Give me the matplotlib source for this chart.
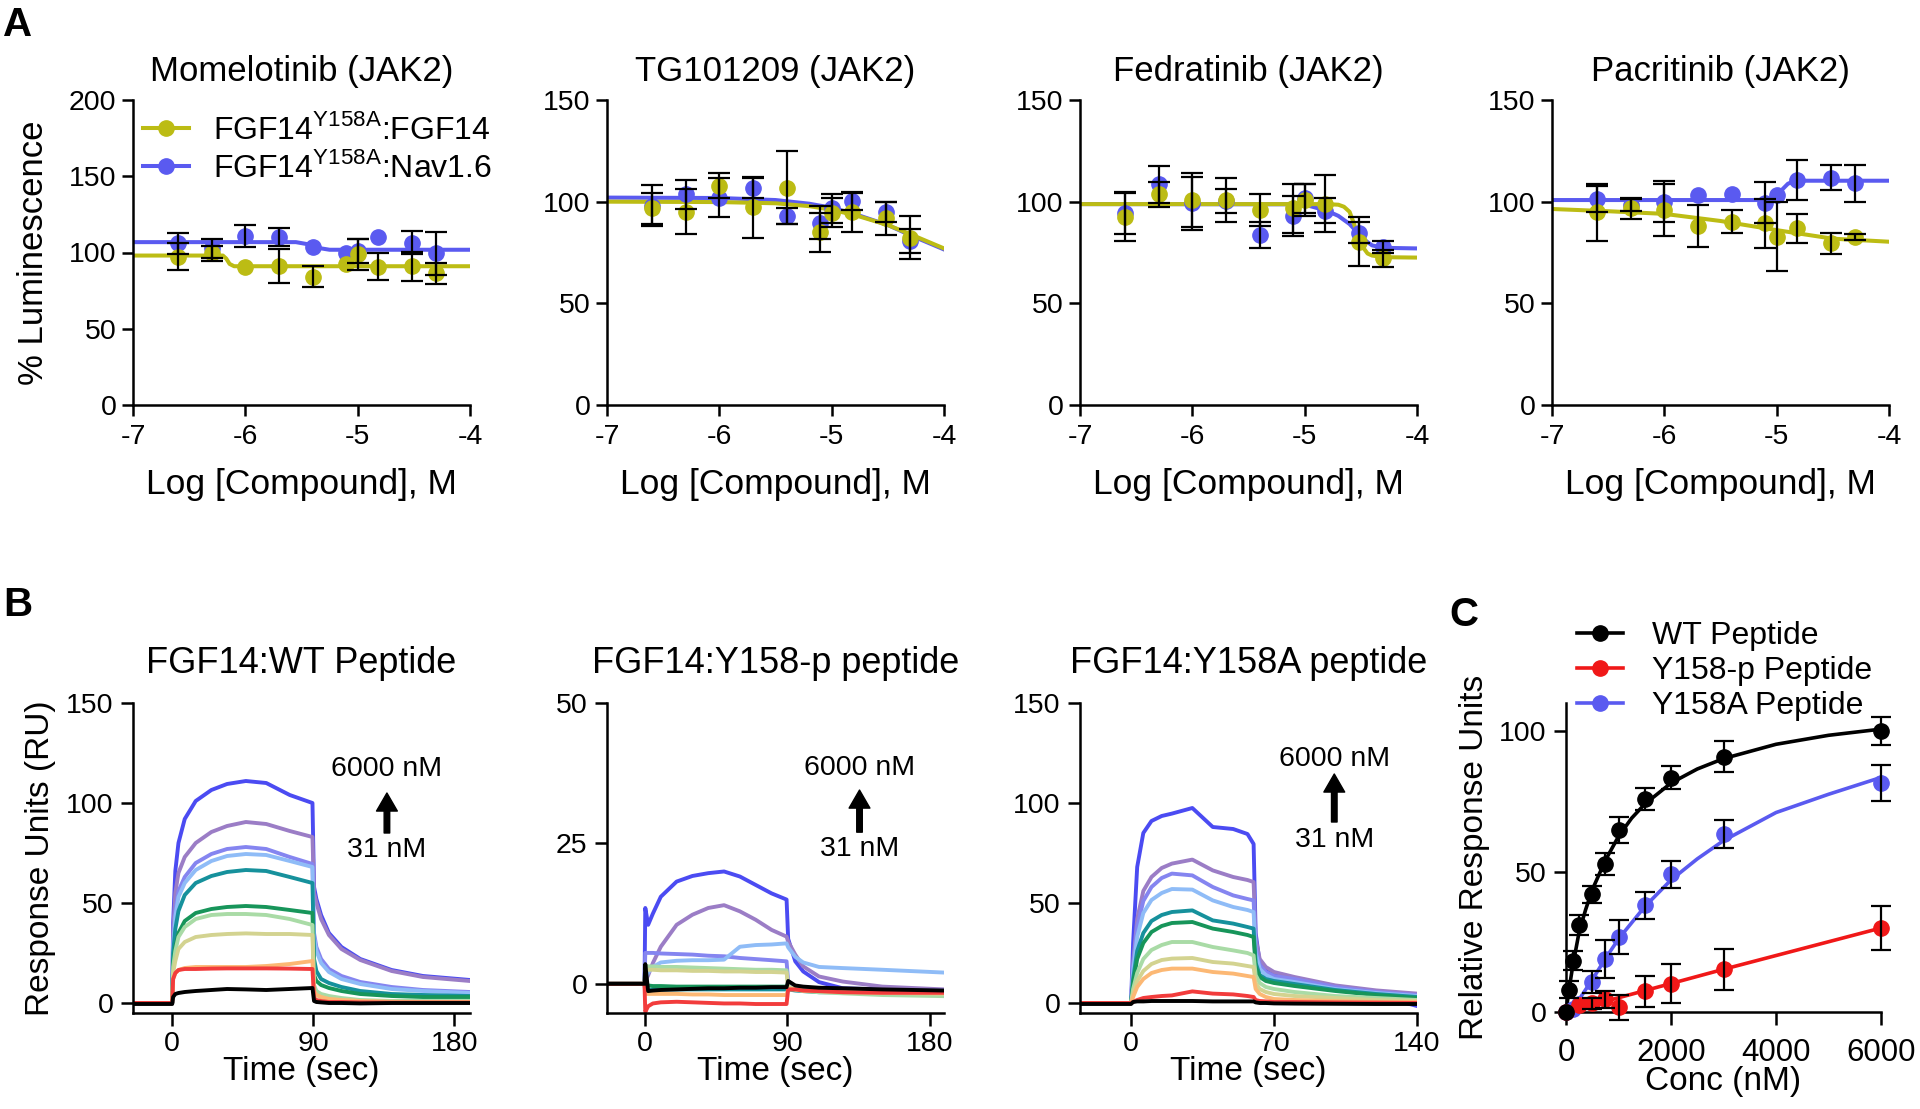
import matplotlib.pyplot as plt
from matplotlib.lines import Line2D

plt.rcParams['font.family'] = ['Liberation Sans', 'DejaVu Sans']
plt.rcParams['mathtext.fontset'] = 'custom'
plt.rcParams['mathtext.rm'] = 'Liberation Sans'
plt.rcParams['axes.unicode_minus'] = False
plt.rcParams['axes.linewidth'] = 1.8
plt.rcParams['xtick.major.width'] = 1.8
plt.rcParams['ytick.major.width'] = 1.8

# ---------------- panel A data ----------------
log_conc = [-6.60, -6.30, -6.00, -5.70, -5.40, -5.10, -5.00, -4.82, -4.52, -4.30]
drugs = ['Momelotinib (JAK2)', 'TG101209 (JAK2)', 'Fedratinib (JAK2)', 'Pacritinib (JAK2)']

fgf_mean = [[97.3, 99.5, 90.7, 91.1, 84.2, 92.2, 98.8, 90.7, 91.1, 86.3],
            [96.7, 95.0, 107.9, 97.2, 106.9, 84.9, 94.6, 94.8, 91.8, 82.3],
            [92.6, 103.6, 100.8, 100.8, 95.9, 96.7, 100.8, 98.9, 80.3, 72.1],
            [94.8, 96.7, 95.9, 88.0, 90.2, 89.3, 82.8, 86.9, 79.5, 82.5]]
fgf_err = [[9, 5, 0, 11, 7, 0, 10, 9, 9.5, 7],
           [7.5, 11, 6, 15, 18, 9.5, 7, 9.5, 8, 10.5],
           [12, 6, 13.5, 11, 8, 12, 8, 14, 12, 4],
           [14, 5, 13, 10.5, 5.5, 12, 17, 7, 5, 1.5]]
nav_mean = [[106.0, 102.7, 110.8, 110.0, 103.8, 99.5, 101.0, 110.0, 106.4, 99.5],
            [98.0, 103.6, 102.0, 106.6, 93.0, 89.7, 96.7, 100.3, 95.0, 80.8],
            [94.3, 108.5, 99.2, 100.3, 83.6, 93.0, 101.6, 95.6, 84.8, 77.9],
            [101.3, 98.4, 100.0, 103.3, 103.6, 99.5, 103.3, 110.7, 111.8, 109.0]]
nav_err = [[7, 6, 7, 6, 0, 0, 8, 0, 7.5, 14],
           [10, 7, 9.5, 5, 4, 8, 7, 4.5, 5, 6],
           [10, 9, 13, 6, 6.5, 10, 7, 6, 5, 3],
           [6.5, 3, 10, 0, 0, 10, 0, 10, 6, 9]]

# fitted curves
fgf_fit_x = [[-7, -6.2, -6.17, -6.14, -6.1, -4],
             [-7, -6, -5.5, -5.2, -5, -4.8, -4.5, -4.3, -4],
             [-7, -4.8, -4.7, -4.65, -4.6, -4.56, -4.52, -4.48, -4.44, -4.4, -4.3, -4],
             [-7, -6.5, -6, -5.5, -5, -4.5, -4]]
fgf_fit_y = [[98, 98, 96, 92.5, 91, 91],
             [100, 99.8, 99.2, 97.8, 96, 93.5, 88.5, 84, 77],
             [98.8, 98.8, 98.5, 97.5, 95, 89, 82, 77.5, 74.5, 73.5, 72.7, 72.5],
             [96.4, 95.3, 94.0, 90.5, 86, 81.8, 80.3]]
nav_fit_x = [[-7, -5.55, -5.45, -5.35, -5.25, -4],
             [-7, -6, -5.5, -5.2, -5, -4.8, -4.5, -4.3, -4],
             [-7, -5.1, -4.95, -4.8, -4.7, -4.6, -4.55, -4.5, -4.45, -4.4, -4.3, -4],
             [-7, -5.05, -5.0, -4.95, -4.9, -4.85, -4.8, -4]]
nav_fit_y = [[106.8, 106.8, 105.5, 103, 101.8, 101.8],
             [102, 101.8, 100.8, 99, 97, 94, 88.5, 83.5, 76.5],
             [98.8, 98.7, 97.8, 95.5, 93, 89, 86, 83, 80.5, 78.5, 77.3, 77],
             [100.8, 100.8, 102.5, 106, 108.8, 110, 110.3, 110.3]]
a_ymax = [200, 150, 150, 150]

# ---------------- panel B data ----------------
conc_nM = [6000, 3000, 2000, 1500, 1000, 750, 500, 250, 125, 62, 31]
trace_colors = ['#4b4bf2', '#9b7dc6', '#8585f0', '#8fbcf7', '#16919c', '#17955a',
                '#a9dba6', '#d3d390', '#fcb874', '#f23c3c', '#000000']

t_wt = [-25, 0, 0.6, 2, 4, 8, 15, 25, 35, 47, 60, 75, 89.5, 90.5, 92, 95, 100, 108, 120, 140, 160, 190]
ru_wt = [
    [0, 0, 40, 66, 80, 92, 101, 106.5, 109.5, 111, 110, 104, 100, 58, 52, 44, 35, 28, 22, 16.5, 13.5, 11.5],
    [0, 0, 35, 55, 65, 73, 80, 85.5, 88.5, 90.5, 89.5, 86, 83, 55, 50, 42, 34, 27, 21.5, 16, 13, 11],
    [0, 0, 30, 46, 56, 63, 70, 74.5, 77, 78, 77, 73, 69.5, 35, 28, 22, 17, 13.5, 10.5, 8, 6.5, 5.5],
    [0, 0, 28, 43, 53, 60, 66.5, 71, 73.5, 74.5, 74, 71, 68, 33, 26, 20, 15.5, 12, 9.5, 7, 6, 5],
    [0, 0, 25, 37, 46, 54, 60, 63.5, 65.5, 66.5, 66, 63, 60, 22, 16, 12, 10, 8, 6, 4.5, 4, 3.5],
    [0, 0, 20, 28, 35, 41, 45, 47, 48, 48.5, 48, 46.5, 45, 14, 11, 9, 7.5, 6, 4.5, 3.5, 3, 3],
    [0, 0, 18, 26, 33, 38, 42, 44, 44.5, 44.5, 44, 42, 39, 9, 6, 4.5, 3.5, 2.5, 1.5, 1, 1, 1],
    [0, 0, 15, 21, 27, 30.5, 33, 34, 34.5, 34.8, 34.5, 34.5, 34, 6, 4, 3, 2, 1.5, 1, 0.8, 0.5, 0.5],
    [0, 0, 12, 15, 16.5, 17.5, 18, 18, 18, 18, 18.5, 19.5, 21, 6, 4, 3, 2, 1.5, 1, 0.5, 0.5, 0.5],
    [0, 0, 12, 15, 16.5, 17, 17, 17.2, 17.3, 17.3, 17.3, 17.2, 17, 2.5, 1.5, 1, 0.5, 0.5, 0.3, 0.2, 0.2, 0.2],
    [-0.5, -0.5, 3, 4.5, 5, 5.5, 6, 6.5, 7, 6.8, 6.5, 7, 7.5, 1, 0.5, 0.3, 0, 0, -0.2, 0, 0, 0],
]

t_p = [-24, -0.3, 0.2, 2, 5, 10, 20, 30, 40, 50, 60, 70, 80, 89.5, 90.5, 95, 100, 110, 125, 150, 189]
ru_p = [
    [0, 0, 13.5, 10.5, 12.5, 15.5, 18.2, 19.2, 19.7, 20, 19.1, 17.6, 16.1, 15, 8, 4, 2.2, 0.3, -0.8, -1, -1.2],
    [0, 0, 0.5, 1.5, 3.7, 6.6, 10.5, 12.3, 13.5, 14, 12.9, 11.4, 9.6, 8.4, 7.5, 5.2, 3.1, 1.3, 0.4, -0.5, -1],
    [0, 0, 5.5, 5.5, 5.5, 5.4, 5.3, 5.2, 5.0, 4.9, 4.6, 4.4, 4.2, 4.0, 0.5, -0.5, -1, -1, -1, -1.2, -1.2],
    [0, 0, 1, 2, 3, 3.8, 4.1, 4.2, 4.2, 4.3, 6.6, 6.9, 7.0, 7.2, 6.5, 4.8, 3.8, 3.0, 2.8, 2.5, 2.0],
    [0, 0, -1.5, -1.2, -1, -1, -1, -1, -1, -1, -1, -1, -1, -1, -1, -1.2, -1.3, -1.5, -1.5, -1.5, -1.6],
    [0, 0, -0.3, -0.3, -0.4, -0.4, -0.5, -0.5, -0.5, -0.5, -0.5, -0.5, -0.5, -0.5, -0.8, -1, -1.2, -1.4, -1.5, -1.7, -2],
    [0, 0, 3.2, 3.1, 3.1, 3.0, 3.0, 2.9, 2.8, 2.7, 2.6, 2.5, 2.5, 2.4, -0.5, -1, -1.3, -1.5, -1.7, -2, -2.2],
    [0, 0, 2.6, 2.5, 2.5, 2.4, 2.4, 2.3, 2.3, 2.2, 2.2, 2.1, 2.1, 2.0, -0.5, -1, -1.2, -1.3, -1.5, -1.6, -1.8],
    [0, 0, -1.8, -1.8, -1.8, -1.8, -1.8, -1.9, -1.9, -2, -2, -2, -2, -2, -1, -1, -1.2, -1.3, -1.4, -1.6, -1.6],
    [0, 0, -5, -4, -3.5, -3.3, -3.2, -3.3, -3.4, -3.5, -3.5, -3.6, -3.6, -3.6, -1, -1, -1.2, -1.3, -1.5, -1.6, -1.6],
    [0, 0, 3.5, -1.3, -1.2, -1.1, -1.0, -0.9, -0.8, -0.8, -0.7, -0.7, -0.6, -0.6, 0.5, -0.3, -0.5, -0.7, -0.8, -1, -1.2],
]

t_a = [-25, 0, 1, 3, 6, 10, 15, 20, 30, 40, 50, 57, 60, 61, 63, 66, 70, 80, 100, 120, 140]
ru_a = [
    [0, 0, 30, 68, 85, 91, 93.5, 94.7, 97.5, 88, 87, 84.5, 79.5, 35, 20, 16, 14, 11.5, 7.5, 4, -1.5],
    [0, 0, 20, 42, 56, 63, 67.5, 69.7, 71.7, 66.3, 63, 61.5, 60.5, 32, 22, 18, 15.5, 13, 8.8, 6.3, 4.7],
    [0, 0, 18, 38, 51, 58, 62.5, 64.7, 63.8, 58, 53.8, 52, 51.3, 28, 19, 15.5, 13.5, 12, 8, 5.5, 4],
    [0, 0, 16, 33, 45, 51.5, 55, 57, 56.7, 51.3, 48, 46.5, 45.5, 25, 17, 14, 12, 10.5, 7, 5, 3.5],
    [0, 0, 12, 26, 35, 41, 44, 45.5, 46.3, 41.3, 39.7, 38, 37.2, 20, 14, 12, 11, 9.5, 6.5, 4.5, 3],
    [0, 0, 10, 22, 30, 35.5, 38.5, 40, 40.5, 37.2, 35.5, 34, 33, 18, 13, 11, 10, 8.5, 6, 4, 2.5],
    [0, 0, 7, 15, 22, 26.5, 29, 30.5, 30.5, 28, 26.3, 25, 23.8, 14, 10, 8, 7, 5.5, 3.5, 2.5, 1.5],
    [0, 0, 5, 11, 16, 19.5, 21.5, 22.2, 22.5, 20.5, 19.7, 18.5, 18, 10, 7, 5.5, 4.5, 3.5, 2.5, 1.5, 1],
    [0, 0, 3, 8, 12, 15, 16.5, 17.2, 17.2, 15.5, 14.7, 13.5, 13, 7, 4.5, 3, 2, 1.5, 1, 0.5, 0.5],
    [0, 0, 0.5, 1.5, 2.5, 3, 3.5, 3.8, 5.8, 4.7, 4.3, 3.5, 3, 1.5, 1, 0.8, 0.5, 0.5, 0.3, 0.2, 0],
    [-0.5, -0.5, 0.5, 0.8, 0.8, 1, 1, 1, 1, 0.8, 0.8, 0.8, 0.8, 0.3, 0, 0, -0.2, -0.3, -0.4, -0.5, -0.5],
]

# ---------------- panel C data ----------------
conc_wt = [0, 62, 125, 250, 500, 750, 1000, 1500, 2000, 3000, 6000]
wt_mean = [0, 8, 18.3, 31, 41.9, 52.6, 64.8, 75.8, 83.4, 90.9, 100]
wt_err = [0, 3, 3.5, 3.5, 3, 4, 4.5, 4, 4, 5.5, 5]
conc_pp = [0, 250, 500, 750, 1000, 1500, 2000, 3000, 6000]
pp_mean = [0, 2.5, 3.1, 4.5, 1.7, 7.4, 10.1, 15.3, 29.9]
pp_err = [0, 0, 2, 3, 4.5, 5.5, 7, 7.3, 7.9]
conc_ya = [0, 125, 250, 500, 750, 1000, 1500, 2000, 3000, 6000]
ya_mean = [0, 1, 3, 10.7, 18.8, 26.6, 38, 49, 63.4, 81.4]
ya_err = [0, 0, 0, 4, 6.7, 6, 4.8, 4.7, 5, 6.4]
wt_fit_x = [0, 62, 125, 250, 375, 500, 750, 1000, 1250, 1500, 2000, 2500, 3000, 4000, 5000, 6000]
wt_fit_y = [0, 8.5, 16, 28.5, 36.5, 43.5, 54, 62.5, 69, 74, 81.5, 86.5, 90.2, 95.3, 98.5, 100.7]
ya_fit_x = [0, 100, 250, 500, 750, 1000, 1500, 2000, 2500, 3000, 4000, 5000, 6000]
ya_fit_y = [0, 0.5, 4.5, 11.5, 19, 26, 37.5, 47, 54.5, 61, 71, 77.5, 83.5]
pp_fit_x = [0, 3000, 6000]
pp_fit_y = [0, 15.2, 29.9]

YEL = '#bcbc14'
BLU = '#5a5af0'
RED = '#f01818'

W, H = 1920, 1109
fig = plt.figure(figsize=(W / 100, H / 100), dpi=100)


def px_axes(left, top, right, bottom):
    return fig.add_axes([left / W, 1 - bottom / H, (right - left) / W, (bottom - top) / H])


def style(ax, tick_len=8, size=20.5):
    ax.spines['top'].set_visible(False)
    ax.spines['right'].set_visible(False)
    ax.tick_params(direction='out', length=tick_len, labelsize=size)


def errbars(ax, x, y, e, capsize=8):
    xs = [a for a, b in zip(x, e) if b > 0]
    ys = [a for a, b in zip(y, e) if b > 0]
    es = [b for b in e if b > 0]
    ax.errorbar(xs, ys, yerr=es, fmt='none', ecolor='k', elinewidth=1.6,
                capsize=capsize, capthick=1.6, zorder=5, clip_on=False)


def conc_arrow(ax, x, y_top, y_head, y_tail, y_bot):
    ax.text(x, y_top, '6000 nM', ha='center', va='center', fontsize=20.5)
    ax.annotate('', xy=(x, y_head), xytext=(x, y_tail),
                arrowprops=dict(width=4, headwidth=15, headlength=13, facecolor='k',
                                edgecolor='k', shrink=0))
    ax.text(x, y_bot, '31 nM', ha='center', va='center', fontsize=20.5)


# ---------------- panel A ----------------
a_lefts = [133, 607, 1080, 1552]
for i in range(4):
    ax = px_axes(a_lefts[i], 100, a_lefts[i] + 337, 405)
    style(ax)
    ax.plot(nav_fit_x[i], nav_fit_y[i], color=BLU, lw=2.9, zorder=2)
    ax.plot(fgf_fit_x[i], fgf_fit_y[i], color=YEL, lw=2.9, zorder=2)
    ax.plot(log_conc, nav_mean[i], 'o', color=BLU, ms=11, zorder=3)
    ax.plot(log_conc, fgf_mean[i], 'o', color=YEL, ms=11, zorder=3)
    errbars(ax, log_conc, nav_mean[i], nav_err[i])
    errbars(ax, log_conc, fgf_mean[i], fgf_err[i])
    ax.set_xlim(-7, -4)
    ax.set_ylim(0, a_ymax[i])
    ax.set_xticks([-7, -6, -5, -4])
    ax.set_yticks(range(0, a_ymax[i] + 1, 50))
    ax.tick_params(axis='x', pad=6)
    ax.tick_params(axis='y', pad=4)
    ax.text(0.5, 1.062, drugs[i], transform=ax.transAxes, ha='center', va='baseline', fontsize=25)
    ax.set_xlabel('Log [Compound], M', fontsize=25.5)
    ax.xaxis.set_label_coords(0.5, -0.205)
    if i == 0:
        ax.set_ylabel('% Luminescence', fontsize=25)
        ax.yaxis.set_label_coords(-0.246, 0.5)
        h1 = Line2D([], [], color=YEL, lw=2.9, marker='o', ms=11)
        h2 = Line2D([], [], color=BLU, lw=2.9, marker='o', ms=11)
        ax.legend([h1, h2], [r'FGF14$^{\mathrm{Y158A}}$:FGF14', r'FGF14$^{\mathrm{Y158A}}$:Nav1.6'],
                  loc='upper left', bbox_to_anchor=(0.03, 0.955), frameon=False, fontsize=23,
                  handlelength=1.45, handletextpad=0.75, labelspacing=0.2, borderaxespad=0, borderpad=0)

# ---------------- panel B ----------------
b_specs = [
    (133, 'FGF14:WT Peptide', t_wt, ru_wt, (-25, 190), [0, 90, 180], (-5, 150), [0, 50, 100, 150],
     (137, 117, 105, 85, 76.5)),
    (607, 'FGF14:Y158-p peptide', t_p, ru_p, (-24, 189), [0, 90, 180], (-5.2, 50), [0, 25, 50],
     (135.6, 38.5, 34.5, 27, 24)),
    (1080, 'FGF14:Y158A peptide', t_a, ru_a, (-25, 140), [0, 70, 140], (-5, 150), [0, 50, 100, 150],
     (99.5, 122, 114.5, 90.5, 81.5)),
]
for j, (left, title, tt, traces, xl, xt, yl, yt, ann) in enumerate(b_specs):
    ax = px_axes(left, 703, left + 337, 1013)
    style(ax, tick_len=9)
    for k in range(len(traces)):
        ax.plot(tt, traces[k], color=trace_colors[k], lw=2.8, zorder=2 + k * 0.01)
    ax.set_xlim(*xl)
    ax.set_ylim(*yl)
    ax.set_xticks(xt)
    ax.set_yticks(yt)
    ax.tick_params(axis='x', pad=4)
    ax.tick_params(axis='y', pad=5)
    ax.text(0.5, 1.097, title, transform=ax.transAxes, ha='center', va='baseline', fontsize=26)
    ax.set_xlabel('Time (sec)', fontsize=24)
    ax.xaxis.set_label_coords(0.5, -0.14)
    if j == 0:
        ax.set_ylabel('Response Units (RU)', fontsize=24)
        ax.yaxis.set_label_coords(-0.228, 0.5)
    conc_arrow(ax, *ann)

# ---------------- panel C ----------------
ax = px_axes(1566, 703, 1881, 1012)
style(ax, tick_len=9)
ax.plot(ya_fit_x, ya_fit_y, color=BLU, lw=2.6, zorder=2, clip_on=False)
ax.plot(conc_ya, ya_mean, 'o', color=BLU, ms=11, zorder=3, clip_on=False)
errbars(ax, conc_ya, ya_mean, ya_err, capsize=7)
ax.plot(pp_fit_x, pp_fit_y, color=RED, lw=2.6, zorder=2, clip_on=False)
ax.plot(conc_pp, pp_mean, 'o', color=RED, ms=11, zorder=3, clip_on=False)
errbars(ax, conc_pp, pp_mean, pp_err, capsize=7)
ax.plot(wt_fit_x, wt_fit_y, color='k', lw=2.6, zorder=2, clip_on=False)
ax.plot(conc_wt, wt_mean, 'o', color='k', ms=11, zorder=3, clip_on=False)
errbars(ax, conc_wt, wt_mean, wt_err, capsize=7)
ax.set_xlim(0, 6000)
ax.set_ylim(0, 110)
ax.set_xticks([0, 2000, 4000, 6000])
ax.set_yticks([0, 50, 100])
ax.tick_params(axis='x', pad=10, labelsize=22.5)
ax.tick_params(axis='y', pad=5)
ax.set_xlabel('Conc (nM)', fontsize=24)
ax.xaxis.set_label_coords(0.5, -0.175)
ax.set_ylabel('Relative Response Units', fontsize=24)
ax.yaxis.set_label_coords(-0.24, 0.5)
hc = [Line2D([], [], color=c, lw=2.6, marker='o', ms=11) for c in ['k', RED, BLU]]
ax.legend(hc, ['WT Peptide', 'Y158-p Peptide', 'Y158A Peptide'], loc='upper left',
          bbox_to_anchor=(0.035, 1.265), frameon=False, fontsize=23, handlelength=1.44,
          handletextpad=0.9, labelspacing=0.15, borderaxespad=0, borderpad=0)

# panel letters
fig.text(3 / W, 1 - 6 / H, 'A', fontsize=29, fontweight='bold', va='top', ha='left')
fig.text(3 / W, 1 - 586 / H, 'B', fontsize=29, fontweight='bold', va='top', ha='left')
fig.text(1449 / W, 1 - 596 / H, 'C', fontsize=29, fontweight='bold', va='top', ha='left')

fig.savefig('out.png', dpi=100)
